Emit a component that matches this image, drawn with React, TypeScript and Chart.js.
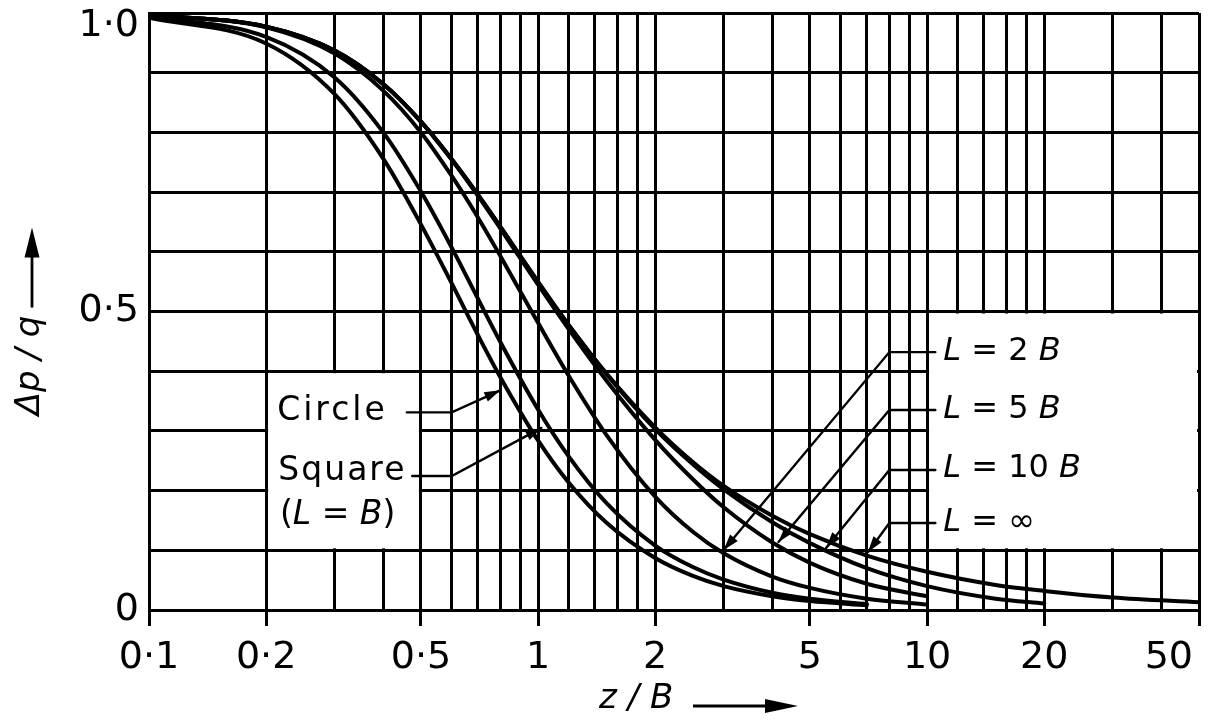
import React, { useEffect, useRef } from 'react';
import { Chart, registerables } from 'chart.js';

Chart.register(...registerables);

const FONT = '"DejaVu Sans", "Liberation Sans", sans-serif';

// ---- data ----
const Z_OVER_B = [0.1, 0.2, 0.3, 0.4, 0.5, 0.6, 0.7, 0.8, 1, 1.2, 1.5, 2, 2.5, 3, 4, 5, 7, 10, 15, 20, 30, 50];

const CIRCLE = [0.992, 0.949, 0.864, 0.756, 0.646, 0.547, 0.461, 0.39, 0.284, 0.213, 0.146, 0.087, 0.057, 0.04, 0.023, 0.015, 0.008, null, null, null, null, null];
const SQUARE = [0.994, 0.96, 0.892, 0.8, 0.701, 0.607, 0.522, 0.449, 0.336, 0.257, 0.179, 0.108, 0.072, 0.051, 0.029, 0.019, 0.01, null, null, null, null, null];
const L_2B = [0.997, 0.976, 0.932, 0.87, 0.8, 0.727, 0.658, 0.593, 0.481, 0.392, 0.293, 0.19, 0.131, 0.095, 0.056, 0.037, 0.019, 0.009, null, null, null, null];
const L_5B = [0.997, 0.977, 0.937, 0.881, 0.818, 0.754, 0.694, 0.639, 0.545, 0.47, 0.384, 0.285, 0.219, 0.172, 0.113, 0.079, 0.044, 0.023, null, null, null, null];
const L_10B = [0.997, 0.977, 0.937, 0.881, 0.818, 0.755, 0.696, 0.642, 0.549, 0.477, 0.395, 0.303, 0.244, 0.202, 0.147, 0.112, 0.07, 0.04, 0.019, 0.011, null, null];
const L_INF = [0.997, 0.977, 0.937, 0.881, 0.818, 0.755, 0.696, 0.642, 0.55, 0.477, 0.396, 0.306, 0.248, 0.208, 0.158, 0.127, 0.091, 0.064, 0.042, 0.032, 0.021, 0.013];

const SERIES_NAMES = ['Circle', 'Square (L = B)', 'L = 2B', 'L = 5B', 'L = 10B', 'L = ∞'];
const SERIES_VALUES = [CIRCLE, SQUARE, L_2B, L_5B, L_10B, L_INF];

const X_GRID = [0.1, 0.2, 0.3, 0.4, 0.5, 0.6, 0.7, 0.8, 0.9, 1, 1.2, 1.4, 1.6, 1.8, 2, 3, 4, 5, 6, 7, 8, 9, 10, 12, 14, 16, 18, 20, 30, 40, 50];
const X_TICKS = [0.1, 0.2, 0.5, 1, 2, 5, 10, 20, 50];
const X_TICK_LABELS = ['0·1', '0·2', '0·5', '1', '2', '5', '10', '20', '50'];

const Y_GRID = [0, 0.1, 0.2, 0.3, 0.4, 0.5, 0.6, 0.7, 0.8, 0.9, 1];
const Y_TICKS = [0, 0.5, 1];
const Y_TICK_LABELS = ['0', '0·5', '1·0'];

const X_TITLE = 'z / B';
const Y_TITLE = 'Δp / q';

// ---- annotations (data coordinates) ----
const BOXES = [
  { x: [0.2, 0.5], y: [0.1, 0.4] },
  { x: [10, 50], y: [0.1, 0.5] },
];

type Part = [string, boolean];
const NOTES: { parts: Part[]; x: number; y: number; spacing: number; size: number }[] = [
  { parts: [['Circle', false]], x: 0.2135, y: 0.333, spacing: 3, size: 33 },
  { parts: [['Square', false]], x: 0.215, y: 0.232, spacing: 2, size: 33 },
  { parts: [['(', false], ['L', true], [' = ', false], ['B', true], [')', false]], x: 0.217, y: 0.158, spacing: 0, size: 33 },
  { parts: [['L', true], [' = 2 ', false], ['B', true]], x: 11, y: 0.432, spacing: 0, size: 32 },
  { parts: [['L', true], [' = 5 ', false], ['B', true]], x: 11, y: 0.335, spacing: 0, size: 32 },
  { parts: [['L', true], [' = 10 ', false], ['B', true]], x: 11, y: 0.236, spacing: 0, size: 32 },
  { parts: [['L', true], [' = ∞', false]], x: 11, y: 0.147, spacing: 0, size: 32 },
];

const LEADERS = [
  { start: [0.46, 0.331], elbow: [0.6, 0.331], tip: [0.8, 0.368] },
  { start: [0.475, 0.2245], elbow: [0.6, 0.2245], tip: [1.02, 0.305] },
  { start: [10.5, 0.432], elbow: [8, 0.432], tip: [3.0, 0.1005] },
  { start: [10.5, 0.335], elbow: [8, 0.335], tip: [4.15, 0.114] },
  { start: [10.5, 0.2345], elbow: [8, 0.2345], tip: [5.5, 0.104] },
  { start: [10.5, 0.1457], elbow: [8, 0.1457], tip: [7.05, 0.097] },
];

const near = (a: number, b: number) => Math.abs(a - b) <= 1e-6 * Math.max(1, Math.abs(b));

function arrowHead(ctx: CanvasRenderingContext2D, fx: number, fy: number, tx: number, ty: number, len: number, half: number) {
  const a = Math.atan2(ty - fy, tx - fx);
  const c = Math.cos(a);
  const s = Math.sin(a);
  ctx.beginPath();
  ctx.moveTo(tx, ty);
  ctx.lineTo(tx - len * c + half * s, ty - len * s - half * c);
  ctx.lineTo(tx - len * c - half * s, ty - len * s + half * c);
  ctx.closePath();
  ctx.fill();
}

const decorPlugin = {
  id: 'decor',
  beforeDatasetsDraw(chart: any) {
    const { ctx, scales } = chart;
    const x = scales.x;
    const y = scales.y;
    ctx.save();
    ctx.fillStyle = '#ffffff';
    for (const b of BOXES) {
      const x0 = x.getPixelForValue(b.x[0]) + 2;
      const x1 = x.getPixelForValue(b.x[1]) - 2;
      const y0 = y.getPixelForValue(b.y[1]) + 2;
      const y1 = y.getPixelForValue(b.y[0]) - 2;
      ctx.fillRect(x0, y0, x1 - x0, y1 - y0);
    }
    ctx.restore();
  },
  afterDatasetsDraw(chart: any) {
    const { ctx, scales } = chart;
    const x = scales.x;
    const y = scales.y;
    ctx.save();
    ctx.strokeStyle = '#000';
    ctx.fillStyle = '#000';
    ctx.lineWidth = 2.4;
    ctx.lineCap = 'round';
    for (const l of LEADERS) {
      const sx = x.getPixelForValue(l.start[0]);
      const sy = y.getPixelForValue(l.start[1]);
      const ex = x.getPixelForValue(l.elbow[0]);
      const ey = y.getPixelForValue(l.elbow[1]);
      const tx = x.getPixelForValue(l.tip[0]);
      const ty = y.getPixelForValue(l.tip[1]);
      ctx.beginPath();
      ctx.moveTo(sx, sy);
      ctx.lineTo(ex, ey);
      ctx.lineTo(tx, ty);
      ctx.stroke();
      arrowHead(ctx, ex, ey, tx, ty, 16, 5);
    }
    ctx.textBaseline = 'middle';
    ctx.textAlign = 'left';
    for (const n of NOTES) {
      let cx = x.getPixelForValue(n.x);
      const cy = y.getPixelForValue(n.y);
      for (const [t, it] of n.parts) {
        ctx.font = `${it ? 'italic ' : ''}${n.size}px ${FONT}`;
        (ctx as any).letterSpacing = `${n.spacing}px`;
        ctx.fillText(t, cx, cy);
        cx += ctx.measureText(t).width;
      }
    }
    (ctx as any).letterSpacing = '0px';
    ctx.restore();
  },
  afterDraw(chart: any) {
    const { ctx, chartArea, scales } = chart;
    const cx = (chartArea.left + chartArea.right) / 2;
    const cy = (chartArea.top + chartArea.bottom) / 2;
    ctx.save();
    ctx.strokeStyle = '#000';
    ctx.fillStyle = '#000';
    ctx.lineWidth = 2.8;
    // x-axis title arrow
    const ay = scales.x.bottom - 14;
    ctx.beginPath();
    ctx.moveTo(cx + 19, ay);
    ctx.lineTo(cx + 100, ay);
    ctx.stroke();
    arrowHead(ctx, cx + 19, ay, cx + 124, ay, 33, 7);
    // y-axis title arrow
    const ax = scales.y.left + 32;
    ctx.beginPath();
    ctx.moveTo(ax, cy - 4);
    ctx.lineTo(ax, cy - 62);
    ctx.stroke();
    arrowHead(ctx, ax, cy - 4, ax, cy - 84, 30, 7.5);
    ctx.restore();
  },
};

export default function App() {
  const ref = useRef<HTMLCanvasElement>(null);

  useEffect(() => {
    const canvas = ref.current;
    if (!canvas) return;
    Chart.defaults.font.family = FONT;
    Chart.defaults.color = '#000';

    const datasets = SERIES_NAMES.map((name, si) => ({
      label: name,
      data: Z_OVER_B.map((z, i) => ({ x: z, y: SERIES_VALUES[si][i] })).filter((p) => p.y !== null),
      borderColor: '#000',
      borderWidth: 4,
      pointRadius: 0,
      fill: false,
      cubicInterpolationMode: 'monotone' as const,
      borderCapStyle: 'round' as const,
    }));

    const chart = new Chart(canvas, {
      type: 'line',
      data: { datasets },
      options: {
        responsive: false,
        animation: false,
        devicePixelRatio: 1,
        layout: { padding: { left: 0, top: 13, right: 11, bottom: 0 } },
        plugins: {
          legend: { display: false },
          tooltip: { enabled: false },
          title: { display: false },
        },
        scales: {
          x: {
            type: 'logarithmic',
            position: 'bottom',
            min: 0.1,
            max: 50,
            afterBuildTicks: (s: any) => {
              s.ticks = X_GRID.map((v) => ({ value: v }));
            },
            afterFit: (s: any) => {
              s.height = 110;
              s.paddingLeft = 0;
              s.paddingRight = 0;
            },
            ticks: {
              autoSkip: false,
              maxRotation: 0,
              minRotation: 0,
              padding: 9,
              color: '#000',
              font: { family: FONT, size: 38 },
              callback: (value: any) => {
                const i = X_TICKS.findIndex((t) => near(Number(value), t));
                if (i < 0) return '';
                return X_TICK_LABELS[i] + (i === X_TICKS.length - 1 ? '     ' : '');
              },
            },
            grid: {
              color: '#000',
              lineWidth: 3,
              drawTicks: true,
              tickLength: 16,
              tickWidth: 3,
              tickColor: (c: any) =>
                c.tick && X_TICKS.some((t) => near(c.tick.value, t)) ? '#000' : 'rgba(0,0,0,0)',
            },
            border: { display: true, color: '#000', width: 3 },
            title: {
              display: true,
              text: X_TITLE + '       ',
              color: '#000',
              font: { family: FONT, size: 34, style: 'italic' },
              padding: { top: 0, bottom: 0 },
            },
          },
          y: {
            type: 'linear',
            min: 0,
            max: 1,
            afterBuildTicks: (s: any) => {
              s.ticks = Y_GRID.map((v) => ({ value: v }));
            },
            afterFit: (s: any) => {
              s.width = 149;
              s.paddingTop = 0;
              s.paddingBottom = 0;
            },
            ticks: {
              padding: 10,
              color: '#000',
              font: { family: FONT, size: 38, lineHeight: 0.7 },
              callback: (value: any) => {
                const i = Y_TICKS.findIndex((t) => near(Number(value), t));
                if (i < 0) return '';
                return i === Y_TICKS.length - 1 ? ['', Y_TICK_LABELS[i]] : Y_TICK_LABELS[i];
              },
            },
            grid: { color: '#000', lineWidth: 3, drawTicks: false },
            border: { display: true, color: '#000', width: 3 },
            title: {
              display: true,
              text: Y_TITLE + '          ',
              color: '#000',
              font: { family: FONT, size: 34, style: 'italic' },
              padding: { top: 10, bottom: 0 },
            },
          },
        },
      } as any,
      plugins: [decorPlugin],
    });

    return () => chart.destroy();
  }, []);

  return (
    <div style={{ position: 'fixed', left: 0, top: 0, width: 1210, height: 720, background: '#fff' }}>
      <canvas ref={ref} width={1210} height={720} style={{ display: 'block', width: 1210, height: 720 }} />
    </div>
  );
}
